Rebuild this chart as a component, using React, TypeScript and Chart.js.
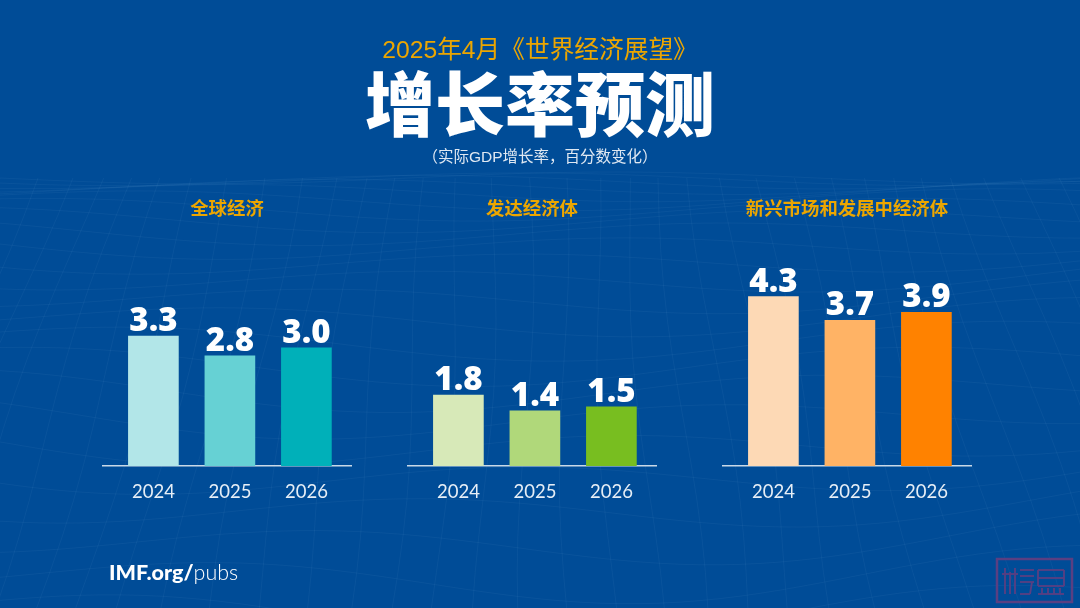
import React, { useEffect, useRef } from "react";
import { Chart, registerables } from "chart.js";

Chart.register(...registerables);

const years = [2024, 2025, 2026];
const worldValues = [3.3, 2.8, 3.0];
const advancedValues = [1.8, 1.4, 1.5];
const emergingValues = [4.3, 3.7, 3.9];
const worldColors = ["#b2e6e8", "#66d1d4", "#00b0b9"];
const advancedColors = ["#d7e9b8", "#b0d87a", "#78be20"];
const emergingColors = ["#fdd9b5", "#ffb365", "#ff8200"];
const panelTitles = ["全球经济", "发达经济体", "新兴市场和发展中经济体"];
const panelLefts = [102, 407, 722];
const panelValues = [worldValues, advancedValues, emergingValues];
const panelColors = [worldColors, advancedColors, emergingColors];

const AMBER = "#eca600";
const BG = "#004c97";
const CJK = '"Noto Sans CJK SC"';

const valueLabels = {
  id: "valueLabels",
  afterDatasetsDraw(chart: any) {
    const { ctx } = chart;
    const meta = chart.getDatasetMeta(0);
    ctx.save();
    ctx.fillStyle = "#ffffff";
    ctx.font = '800 33px "Open Sans", "Noto Sans"';
    ctx.textAlign = "center";
    ctx.textBaseline = "alphabetic";
    meta.data.forEach((bar: any, i: number) => {
      ctx.fillText(chart.data.datasets[0].data[i].y.toFixed(1), bar.x, bar.y - 5);
    });
    ctx.restore();
  },
};

function Panel({ index }: { index: number }) {
  const ref = useRef<HTMLCanvasElement>(null);
  useEffect(() => {
    const chart = new Chart(ref.current!, {
      type: "bar",
      data: {
        datasets: [
          {
            data: years.map((y, i) => ({ x: y, y: panelValues[index][i] })),
            backgroundColor: panelColors[index],
            barThickness: 50,
          },
        ],
      },
      plugins: [valueLabels],
      options: {
        animation: false,
        responsive: false,
        layout: { padding: 0 },
        plugins: {
          legend: { display: false },
          tooltip: { enabled: false },
          title: {
            display: true,
            text: panelTitles[index],
            color: AMBER,
            font: { family: CJK, size: 18.4, weight: "bold", lineHeight: 1.2 },
            padding: { top: 7, bottom: 10.6 },
          },
        },
        scales: {
          x: {
            type: "linear",
            offset: false,
            min: 2024 - 51.4 / 76.5,
            max: 2024 - 51.4 / 76.5 + 250 / 76.5,
            grid: { display: false },
            border: { display: true, color: "#c9d9e8", width: 1.5 },
            afterBuildTicks: (s: any) => {
              s.ticks = years.map((v) => ({ value: v }));
            },
            afterFit: (s: any) => {
              s.height = 44;
            },
            ticks: {
              color: "#e6eef6",
              padding: 7,
              font: { family: "Lato", size: 18.5 },
              maxRotation: 0,
              callback: (v: any) => String(v),
            },
          },
          y: { display: false, min: 0, max: 6 },
        },
      },
    } as any);
    return () => chart.destroy();
  }, [index]);
  return (
    <canvas
      ref={ref}
      width={250}
      height={320}
      style={{ position: "absolute", left: panelLefts[index], top: 190, width: 250, height: 320 }}
    />
  );
}

function Backdrop() {
  const ref = useRef<HTMLCanvasElement>(null);
  useEffect(() => {
    const ctx = ref.current!.getContext("2d")!;
    ctx.strokeStyle = "rgba(150,200,240,0.06)";
    ctx.lineWidth = 1;
    for (let r = 0; r < 24; r++) {
      const t = r / 23;
      const base = 178 + 430 * t * t;
      ctx.beginPath();
      for (let x = 0; x <= 1080; x += 20) {
        const y = base + (6 + 14 * t) * Math.sin(x / 130 + r * 0.7) + 16 * t * Math.sin(x / 300);
        if (x === 0) ctx.moveTo(x, y);
        else ctx.lineTo(x, y);
      }
      ctx.stroke();
    }
    for (let c = 0; c < 34; c++) {
      const top = c * 33;
      const bottom = 540 + (c * 33 - 540) * 1.35;
      ctx.beginPath();
      for (let k = 0; k <= 12; k++) {
        const t = k / 12;
        const x = top + (bottom - top) * t + 7 * Math.sin(t * 5 + c * 0.8);
        const y = 178 + 430 * t;
        if (k === 0) ctx.moveTo(x, y);
        else ctx.lineTo(x, y);
      }
      ctx.stroke();
    }
    const stamp = "#5a3f82";
    ctx.strokeStyle = stamp;
    ctx.lineWidth = 2.5;
    ctx.strokeRect(997, 559, 75, 43);
    ctx.lineWidth = 1.8;
    const bars: number[][] = [
      [1005, 568, 1005, 594], [1010, 572, 1010, 594], [1015, 568, 1015, 594], [1002, 574, 1018, 574],
      [1020, 570, 1034, 570], [1020, 576, 1034, 576], [1020, 582, 1034, 582], [1032, 582, 1030, 594], [1020, 594, 1030, 594],
      [1038, 570, 1064, 570], [1038, 578, 1064, 578], [1038, 570, 1038, 586], [1064, 570, 1064, 586], [1038, 586, 1064, 586],
      [1038, 594, 1064, 594], [1042, 588, 1042, 594], [1048, 588, 1048, 594], [1054, 588, 1054, 594], [1060, 588, 1060, 594],
    ];
    bars.forEach(([a, b, c, d]) => {
      ctx.beginPath();
      ctx.moveTo(a, b);
      ctx.lineTo(c, d);
      ctx.stroke();
    });
  }, []);
  return <canvas ref={ref} width={1080} height={608} style={{ position: "absolute", left: 0, top: 0 }} />;
}

const centered = (top: number, size: number, color: string, weight: number): React.CSSProperties => ({
  position: "absolute",
  left: 0,
  width: 1080,
  top,
  textAlign: "center",
  fontSize: size,
  lineHeight: `${Math.round(size * 1.2)}px`,
  color,
  fontWeight: weight,
  fontFamily: `"Liberation Sans", ${CJK}`,
  whiteSpace: "nowrap",
});

export default function App() {
  return (
    <div style={{ position: "fixed", left: 0, top: 0, width: 1080, height: 608, overflow: "hidden", background: BG }}>
      <Backdrop />
      <div style={centered(35, 24.7, AMBER, 400)}>2025年4月《世界经济展望》</div>
      <div style={{ ...centered(59, 70, "#ffffff", 900), fontFamily: CJK }}>增长率预测</div>
      <div style={centered(147, 15.5, "#dfe8f2", 400)}>（实际GDP增长率，百分数变化）</div>
      {panelTitles.map((_, i) => (
        <Panel key={i} index={i} />
      ))}
      <div style={{ position: "absolute", left: 109, top: 560, fontSize: 21.5, lineHeight: "24px", color: "#fff", fontFamily: "Lato" }}>
        <span style={{ fontWeight: 900 }}>IMF.org/</span>
        <span style={{ fontWeight: 300 }}>pubs</span>
      </div>
    </div>
  );
}
